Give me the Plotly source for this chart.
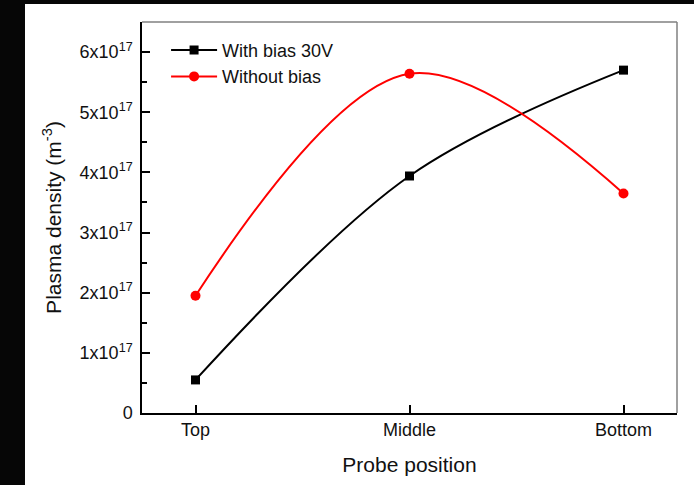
import plotly.graph_objects as go

positions = ["Top", "Middle", "Bottom"]
with_bias = [0.55e17, 3.94e17, 5.70e17]
without_bias = [1.95e17, 5.64e17, 3.65e17]

y_tick_vals = [0, 1e17, 2e17, 3e17, 4e17, 5e17, 6e17]
y_tick_text = ["0", "1x10<sup>17</sup>", "2x10<sup>17</sup>", "3x10<sup>17</sup>",
               "4x10<sup>17</sup>", "5x10<sup>17</sup>", "6x10<sup>17</sup>"]

font_family = "Liberation Sans, Arial, sans-serif"

fig = go.Figure()
fig.add_trace(go.Scatter(
    x=[0, 1, 2], y=with_bias, name="With bias 30V",
    mode="lines+markers", line=dict(color="black", width=2, shape="spline", smoothing=1),
    marker=dict(symbol="square", size=9, color="black"),
))
fig.add_trace(go.Scatter(
    x=[0, 1, 2], y=without_bias, name="Without bias",
    mode="lines+markers", line=dict(color="#ff0000", width=2, shape="spline", smoothing=1),
    marker=dict(symbol="circle", size=10, color="#ff0000"),
))

# black strips at left and top edges of the page
fig.add_shape(type="rect", xref="paper", yref="paper",
              x0=-0.3, x1=-0.2187, y0=-0.25, y1=1.1,
              fillcolor="#060606", line=dict(width=0), layer="below")
fig.add_shape(type="rect", xref="paper", yref="paper",
              x0=-0.3, x1=1.1, y0=1.0458, y1=1.1,
              fillcolor="#060606", line=dict(width=0), layer="below")

fig.update_layout(
    width=694, height=485,
    margin=dict(l=142, r=17, t=22, b=70),
    paper_bgcolor="white",
    plot_bgcolor="rgba(0,0,0,0)",
    font=dict(family=font_family, color="#111111", size=18),
    showlegend=True,
    legend=dict(x=0.045, y=0.975, xanchor="left", yanchor="top",
                bgcolor="rgba(0,0,0,0)", font=dict(size=18), tracegroupgap=0,
                itemwidth=46),
    xaxis=dict(
        range=[-0.25, 2.25], tickvals=[0, 1, 2], ticktext=positions,
        ticks="inside", ticklen=8, tickwidth=1.5, tickcolor="black",
        showline=True, linecolor="black", linewidth=1.5,
        mirror=False, showgrid=False, zeroline=False,
        tickfont=dict(size=18),
        title=dict(text="Probe position", font=dict(size=21), standoff=18),
    ),
    yaxis=dict(
        range=[0, 6.5e17], tickvals=y_tick_vals, ticktext=y_tick_text,
        ticks="inside", ticklen=8, tickwidth=1.5, tickcolor="black",
        minor=dict(ticks="inside", ticklen=5, tickwidth=1.5, tickcolor="black", dtick=0.5e17),
        showline=True, linecolor="black", linewidth=1.5,
        mirror=False, showgrid=False, zeroline=False,
        tickfont=dict(size=18), ticklabelstandoff=4,
        title=dict(text="Plasma density (m<sup>-3</sup>)", font=dict(size=21), standoff=12),
    ),
)

# grey top and right frame lines
fig.add_shape(type="line", xref="paper", yref="paper", x0=0, x1=1, y0=1, y1=1,
              line=dict(color="#808080", width=1.5))
fig.add_shape(type="line", xref="paper", yref="paper", x0=1, x1=1, y0=0, y1=1,
              line=dict(color="#808080", width=1.5))

fig.write_html(
    "out.html",
    post_script="document.documentElement.style.overflow='hidden';"
                "document.body.style.overflow='hidden';document.body.style.margin='0';",
)
